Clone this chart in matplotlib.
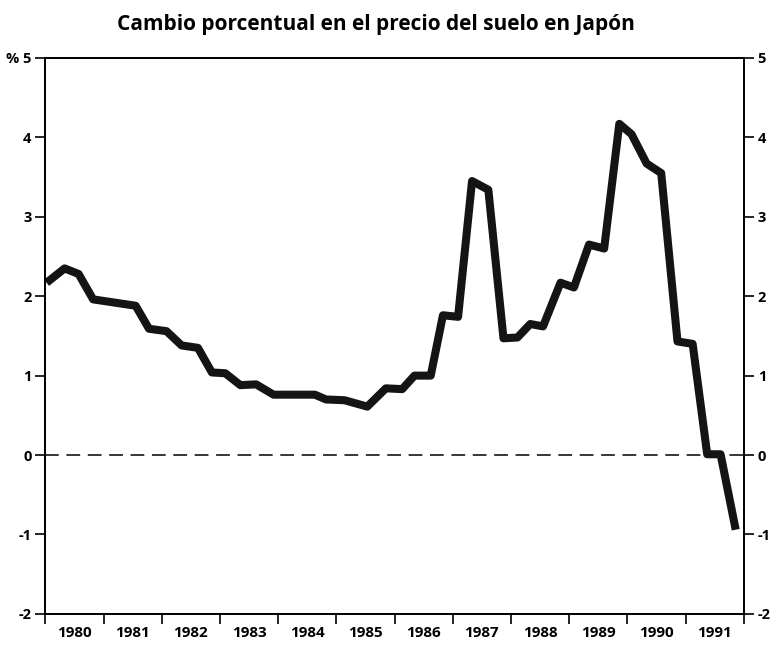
import matplotlib.pyplot as plt
from matplotlib.ticker import FixedLocator, FixedFormatter, NullFormatter

plt.rcParams['font.family'] = ['Open Sans', 'DejaVu Sans']

titulo = 'Cambio porcentual en el precio del suelo en Japón'
anios = list(range(1980, 1992))

# vertices of the line (decimal year, % change)
periodo = [1980.02, 1980.33, 1980.57, 1980.82, 1981.55, 1981.78, 1982.08, 1982.34,
           1982.62, 1982.86, 1983.09, 1983.35, 1983.62, 1983.92, 1984.63, 1984.82,
           1985.14, 1985.53, 1985.85, 1986.13, 1986.34, 1986.62, 1986.83, 1987.09,
           1987.33, 1987.61, 1987.87, 1988.11, 1988.33, 1988.55, 1988.85, 1989.08,
           1989.34, 1989.60, 1989.86, 1990.07, 1990.33, 1990.58, 1990.86, 1991.12,
           1991.37, 1991.60, 1991.86]
cambio = [2.17, 2.35, 2.28, 1.96, 1.88, 1.59, 1.56, 1.38,
          1.35, 1.04, 1.03, 0.88, 0.89, 0.76, 0.76, 0.70,
          0.69, 0.61, 0.84, 0.83, 1.00, 1.00, 1.76, 1.74,
          3.45, 3.34, 1.47, 1.48, 1.65, 1.62, 2.17, 2.11,
          2.65, 2.60, 4.17, 4.04, 3.67, 3.55, 1.43, 1.40,
          0.01, 0.01, -0.94]

valores_y = [-2, -1, 0, 1, 2, 3, 4, 5]
etiquetas_izq = ['-2', '-1', '0', '1', '2', '3', '4', '% 5']
etiquetas_der = ['-2', '-1', '0', '1', '2', '3', '4', '5']


def plot_cambio_precio(periodo, cambio):
    fig = plt.figure(figsize=(7.83, 6.51), dpi=100)
    ax = fig.add_axes([0.058, 0.057, 0.892, 0.854])

    ax.axhline(0, color='black', linewidth=1.1, dashes=(9, 5))
    ax.plot(periodo, cambio, color='#141414', linewidth=5.8,
            solid_joinstyle='round', solid_capstyle='butt')

    ax.set_xlim(1980, 1992)
    ax.set_ylim(-2, 5)

    # year boundaries get the ticks, labels sit in the middle of each year
    ax.xaxis.set_major_locator(FixedLocator(anios + [1992]))
    ax.xaxis.set_major_formatter(NullFormatter())
    ax.xaxis.set_minor_locator(FixedLocator([a + 0.5 for a in anios]))
    ax.xaxis.set_minor_formatter(FixedFormatter([str(a) for a in anios]))
    ax.tick_params(axis='x', which='major', direction='out', length=7, width=1.2)
    ax.tick_params(axis='x', which='minor', length=0, pad=9, labelsize=11)

    ax.set_yticks(valores_y)
    ax.set_yticklabels(etiquetas_izq)
    ax.tick_params(axis='y', direction='out', length=7, width=1.2, labelsize=10.5, pad=3)

    ax2 = ax.twinx()
    ax2.set_ylim(-2, 5)
    ax2.set_yticks(valores_y)
    ax2.set_yticklabels(etiquetas_der)
    ax2.tick_params(axis='y', direction='out', length=7, width=1.2, labelsize=10.5, pad=3)

    for a in (ax, ax2):
        for lbl in a.get_xticklabels(minor=True) + a.get_yticklabels():
            lbl.set_fontweight('bold')
        for s in a.spines.values():
            s.set_linewidth(1.3)

    fig.text(0.48, 0.962, titulo, ha='center', va='center',
             fontsize=15, fontweight='bold')
    fig.savefig('out.png', dpi=100, facecolor='white')


if __name__ == "__main__":
    plot_cambio_precio(periodo, cambio)
